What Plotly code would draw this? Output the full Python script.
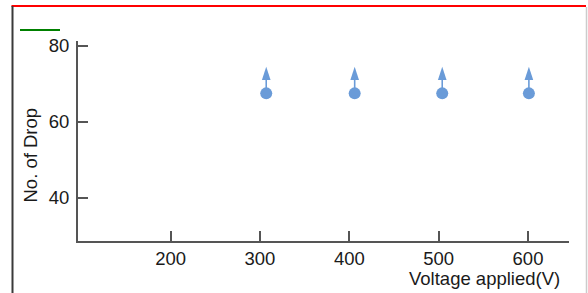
import plotly.graph_objects as go

voltage = [307, 406, 504, 601]
drops = [67.5, 67.5, 67.5, 67.5]
arrow_tip = [74.5, 74.5, 74.5, 74.5]
x_ticks = [200, 300, 400, 500, 600]
y_ticks = [40, 60, 80]
x_title = "Voltage applied(V)"
y_title = "No. of Drop"

blue = "#6a9bd8"
axis_col = "#555555"
font_fam = "Liberation Sans, Arial, sans-serif"

stem_len = [t - d - 2.0 for t, d in zip(arrow_tip, drops)]

fig = go.Figure()
fig.add_trace(go.Scatter(
    x=voltage, y=drops, mode="markers",
    marker=dict(size=1, color="rgba(0,0,0,0)"),
    error_y=dict(type="data", symmetric=False, array=stem_len,
                 arrayminus=[0] * len(drops), width=0, thickness=1.6, color=blue),
    hoverinfo="skip", showlegend=False))
fig.add_trace(go.Scatter(
    x=voltage, y=arrow_tip, mode="markers",
    marker=dict(symbol="arrow", size=14, color=blue, line=dict(width=0)),
    showlegend=False))
fig.add_trace(go.Scatter(
    x=voltage, y=drops, mode="markers",
    marker=dict(symbol="circle", size=12, color=blue, line=dict(width=0)),
    showlegend=False))

L, R, T, B = 78, 19, 41, 52
W, H = 588, 293
pw, ph = W - L - R, H - T - B

def px(x):
    return (x - L) / pw

def py(y):
    return (H - B - y) / ph

frame_col = "#3a3a3a"
fig.update_layout(
    width=W, height=H,
    margin=dict(l=L, r=R, t=T, b=B, pad=0),
    paper_bgcolor="white", plot_bgcolor="white",
    font=dict(family=font_fam, size=18.5, color="#1a1a1a"),
    xaxis=dict(range=[96.3, 645.9], tickvals=x_ticks, ticks="inside", ticklen=10,
               tickwidth=1.5, tickcolor=axis_col, showline=True, linecolor=axis_col,
               linewidth=2, showgrid=False, zeroline=False, ticklabelstandoff=0),
    yaxis=dict(range=[28.6, 81.3], tickvals=y_ticks, ticks="inside", ticklen=10,
               tickwidth=1.5, tickcolor=axis_col, showline=True, linecolor=axis_col,
               linewidth=2, showgrid=False, zeroline=False, ticklabelstandoff=3),
    shapes=[
        dict(type="line", xref="paper", yref="paper", x0=px(11.5), x1=px(586),
             y0=py(6), y1=py(6), line=dict(color="red", width=2.2)),
        dict(type="line", xref="paper", yref="paper", x0=px(20), x1=px(60),
             y0=py(30), y1=py(30), line=dict(color="green", width=2)),
        dict(type="line", xref="paper", yref="paper", x0=px(12.5), x1=px(12.5),
             y0=py(6), y1=py(293), line=dict(color=frame_col, width=2)),
        dict(type="line", xref="paper", yref="paper", x0=px(586.5), x1=px(586.5),
             y0=py(7), y1=py(293), line=dict(color="#cccccc", width=1.5)),
    ],
    annotations=[
        dict(text=y_title, xref="paper", yref="paper", x=px(29.5), y=py(155),
             showarrow=False, textangle=-90, xanchor="center", yanchor="middle",
             font=dict(size=18.5)),
        dict(text=x_title, xref="paper", yref="paper", x=px(484), y=py(278),
             showarrow=False, xanchor="center", yanchor="middle",
             font=dict(size=18.5)),
    ],
)

fig.write_html("out.html", config={"displayModeBar": False},
               post_script="document.body.style.margin='0';document.body.style.padding='0';")
